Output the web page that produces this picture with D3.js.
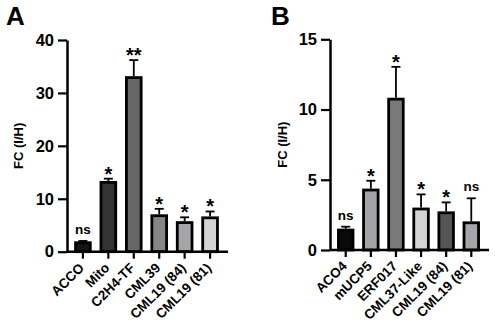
<!DOCTYPE html>
<html>
<head>
<meta charset="utf-8">
<script src="https://cdn.jsdelivr.net/npm/d3@7"></script>
<style>
  html, body { margin: 0; padding: 0; background: #fff; }
  svg { display: block; }
  text { font-family: "Liberation Sans", Arial, sans-serif; font-weight: bold; fill: #000; }
</style>
</head>
<body>
<svg id="chart" width="495" height="325"></svg>
<script>
// Panel A: ethylene-related genes
const categoriesA = ["ACCO", "Mito", "C2H4-TF", "CML39", "CML19 (84)", "CML19 (81)"];
const meansA = [1.7, 13.1, 32.9, 6.8, 5.5, 6.4];
const errorsA = [0.33, 0.7, 3.3, 1.3, 1.0, 1.2];
const signifA = ["ns", "*", "**", "*", "*", "*"];
const ticksA = [0, 10, 20, 30, 40];

// Panel B
const categoriesB = ["ACO4", "mUCP5", "ERF017", "CML37-Like", "CML19 (84)", "CML19 (81)"];
const meansB = [1.42, 4.27, 10.74, 2.92, 2.65, 1.94];
const errorsB = [0.24, 0.66, 2.3, 1.04, 0.74, 1.74];
const signifB = ["ns", "*", "*", "*", "*", "ns"];
const ticksB = [0, 5, 10, 15];

const yTitle = "FC (I/H)";

const svg = d3.select("#chart");

function drawPanel(opt) {
  const g = svg.append("g");

  const x = d3.scaleBand()
    .domain(opt.categories)
    .range([opt.left, opt.right])
    .paddingInner(0.42)
    .paddingOuter(0.336);

  const y = d3.scaleLinear()
    .domain([0, opt.ticks[opt.ticks.length - 1]])
    .range([opt.bottom, opt.top]);

  const rows = opt.categories.map((c, i) => ({
    cat: c, mean: opt.means[i], err: opt.errors[i], sig: opt.signif[i], fill: opt.fills[i]
  }));

  // bars
  g.selectAll("rect.bar").data(rows).join("rect")
    .attr("class", "bar")
    .attr("x", d => x(d.cat))
    .attr("width", x.bandwidth())
    .attr("y", d => y(d.mean))
    .attr("height", d => y(0) - y(d.mean))
    .attr("fill", d => d.fill)
    .attr("stroke", "#000")
    .attr("stroke-width", 2.8);

  // upper error bars
  const cx = d => x(d.cat) + x.bandwidth() / 2;
  g.selectAll("line.err").data(rows).join("line")
    .attr("x1", cx).attr("x2", cx)
    .attr("y1", d => y(d.mean) - 1.4)
    .attr("y2", d => y(d.mean + d.err))
    .attr("stroke", "#000").attr("stroke-width", 1.8);
  g.selectAll("line.cap").data(rows).join("line")
    .attr("x1", d => cx(d) - 4.5).attr("x2", d => cx(d) + 4.5)
    .attr("y1", d => y(d.mean + d.err))
    .attr("y2", d => y(d.mean + d.err))
    .attr("stroke", "#000").attr("stroke-width", 1.8);

  // significance marks
  g.selectAll("text.sig").data(rows).join("text")
    .attr("class", "sig")
    .attr("x", cx)
    .attr("y", d => d.sig === "ns" ? y(d.mean + d.err) - 7 : y(d.mean + d.err) + 2)
    .attr("text-anchor", "middle")
    .style("font-size", d => d.sig === "ns" ? "13.5px" : "20px")
    .text(d => d.sig);

  // y axis
  const ya = g.append("g")
    .attr("transform", `translate(${opt.left},0)`)
    .call(d3.axisLeft(y).tickValues(opt.ticks).tickSize(9).tickSizeOuter(0).tickPadding(4));
  ya.select(".domain").attr("stroke-width", 2.5);
  ya.selectAll(".tick line").attr("stroke-width", 2.2);
  ya.selectAll(".tick text").style("font-size", "16.5px").attr("font-family", null);

  // x axis
  const xa = g.append("g")
    .attr("transform", `translate(0,${opt.bottom})`)
    .call(d3.axisBottom(x).tickSize(7).tickSizeOuter(0).tickFormat(""));
  xa.select(".domain").attr("stroke-width", 2.5)
    .attr("d", `M${opt.left},0H${opt.right + 2}`);
  xa.selectAll(".tick line").attr("stroke-width", 2.2);

  // rotated category labels
  g.selectAll("text.cat").data(rows).join("text")
    .attr("class", "cat")
    .attr("text-anchor", "end")
    .attr("transform", d => `translate(${cx(d) + 2},${opt.bottom + 17}) rotate(-45)`)
    .style("font-size", "13.5px")
    .text(d => d.cat);

  // y axis title
  g.append("text")
    .attr("transform", `translate(${opt.titleX},${(opt.top + opt.bottom) / 2}) rotate(-90)`)
    .attr("text-anchor", "middle")
    .style("font-size", "13px")
    .text(yTitle);

  // panel letter
  g.append("text")
    .attr("x", opt.letterX).attr("y", 25)
    .style("font-size", "26px")
    .text(opt.letter);
}

drawPanel({
  letter: "A", letterX: 6, titleX: 23,
  categories: categoriesA, means: meansA, errors: errorsA, signif: signifA, ticks: ticksA,
  fills: ["#141414", "#333333", "#666666", "#858585", "#a5a5a8", "#d4d4d4"],
  left: 67, right: 226, top: 40, bottom: 251.7
});

drawPanel({
  letter: "B", letterX: 271, titleX: 287,
  categories: categoriesB, means: meansB, errors: errorsB, signif: signifB, ticks: ticksB,
  fills: ["#0a0a0a", "#a3a3a8", "#7a7a7a", "#d4d4d4", "#555555", "#a5a5aa"],
  left: 330, right: 487, top: 39.3, bottom: 250
});
</script>
</body>
</html>
